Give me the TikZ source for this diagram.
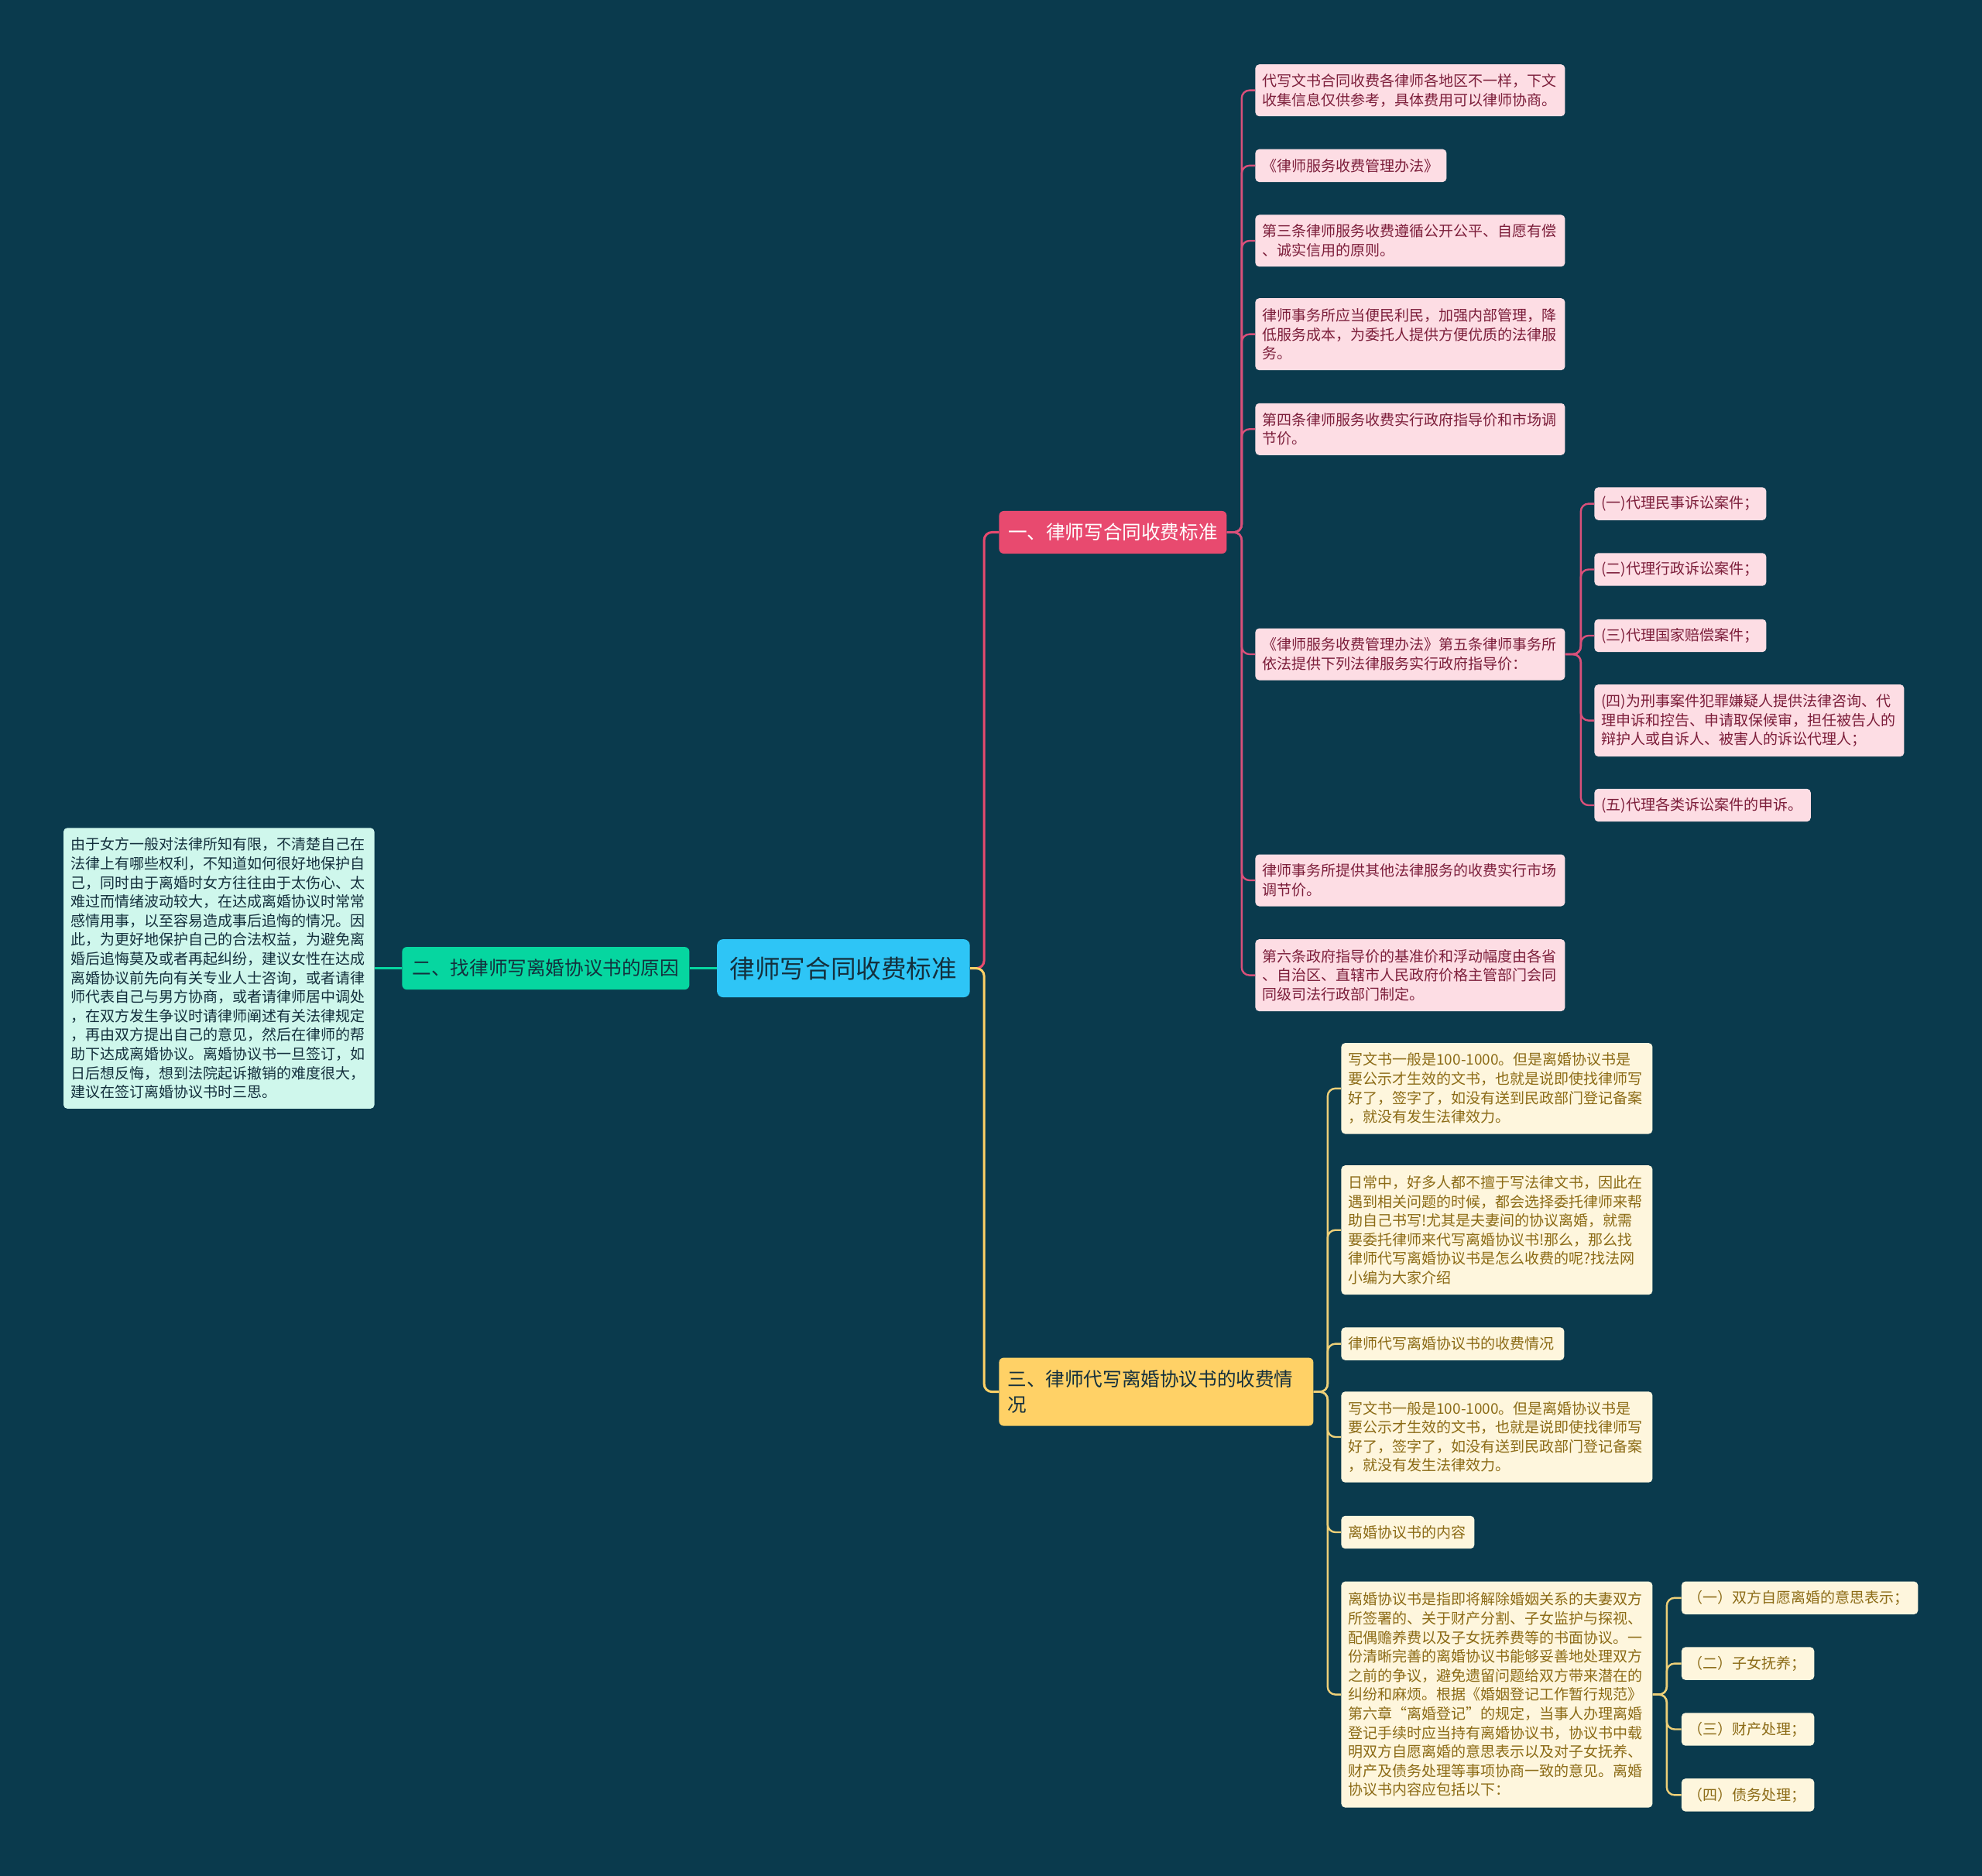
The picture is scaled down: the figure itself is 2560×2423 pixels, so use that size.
\documentclass[tikz,border=0pt]{standalone}
\usepackage{fontspec}
\setmainfont{Noto Sans CJK SC}
\definecolor{bg}{HTML}{0A3A4D}
\definecolor{rootc}{HTML}{2EC5F6}
\definecolor{redc}{HTML}{E84A6F}
\definecolor{greenc}{HTML}{06D6A0}
\definecolor{yellowc}{HTML}{FFD166}
\definecolor{pinkfill}{HTML}{FDDDE4}
\definecolor{pinktext}{HTML}{7C1E3A}
\definecolor{creamfill}{HTML}{FEF6DD}
\definecolor{creamtext}{HTML}{8C6B16}
\definecolor{mintfill}{HTML}{CFF7EC}
\definecolor{darktext}{HTML}{14303D}
\definecolor{pinkline}{HTML}{D9507A}
\definecolor{creamline}{HTML}{EDCF78}
\begin{document}
\begin{tikzpicture}[x=0.5pt,y=-0.5pt,
  box/.style={draw=none, rounded corners=2.5pt, anchor=west, inner ysep=0pt, align=left},
  small/.style={font=\fontsize{9.5}{12.3}\selectfont, inner xsep=4.5pt},
  pk/.style={box, small, fill=pinkfill, text=pinktext},
  cr/.style={box, small, fill=creamfill, text=creamtext},
  mn/.style={box, small, fill=mintfill, text=darktext},
  rootbox/.style={box, rounded corners=4pt, fill=rootc, text=darktext, align=center, inner sep=0pt,
     font=\fontsize{16.3}{20}\selectfont},
  brbox/.style={box, rounded corners=3pt, inner sep=0pt, font=\fontsize{12.3}{16.3}\selectfont},
  lred/.style={draw=redc, line width=1.5pt, rounded corners=5pt},
  lyel/.style={draw=yellowc, line width=1.5pt, rounded corners=5pt},
  lgrn/.style={draw=greenc, line width=1.5pt},
  lpk/.style={draw=pinkline, line width=1.2pt, rounded corners=5pt},
  lcr/.style={draw=creamline, line width=1.2pt, rounded corners=5pt}
]
\fill[bg] (0,0) rectangle (2560,2423);
\useasboundingbox (0,0) rectangle (2560,2423);

% root and branches
\node[rootbox, minimum width=163.3pt, minimum height=37.5pt] (root) at (925.7,1250.6) {律师写合同收费标准};
\node[brbox, fill=redc, text=white, align=center, minimum width=147pt, minimum height=27.5pt] (b1) at (1290,687.5) {一、律师写合同收费标准};
\node[brbox, fill=greenc, text=darktext, align=center, minimum width=185.5pt, minimum height=27.5pt] (b2) at (519,1250.6) {二、找律师写离婚协议书的原因};
\node[brbox, fill=yellowc, text=darktext, align=left, inner xsep=5.5pt, text width=192pt, minimum height=44pt] (b3) at (1290,1797.6) {三、律师代写离婚协议书的收费情\\况};

% left leaf
\node[mn, text width=191.8pt, minimum height=181.3pt] (mint) at (81.6,1250.6) {由于女方一般对法律所知有限，不清楚自己在\\法律上有哪些权利，不知道如何很好地保护自\\己，同时由于离婚时女方往往由于太伤心、太\\难过而情绪波动较大，在达成离婚协议时常常\\感情用事，以至容易造成事后追悔的情况。因\\此，为更好地保护自己的合法权益，为避免离\\婚后追悔莫及或者再起纠纷，建议女性在达成\\离婚协议前先向有关专业人士咨询，或者请律\\师代表自己与男方协商，或者请律师居中调处\\，在双方发生争议时请律师阐述有关法律规定\\，再由双方提出自己的意见，然后在律师的帮\\助下达成离婚协议。离婚协议书一旦签订，如\\日后想反悔，想到法院起诉撤销的难度很大，\\建议在签订离婚协议书时三思。};

% branch 1 children
\node[pk, text width=191pt, minimum height=33.5pt] (p1) at (1621,116.7) {代写文书合同收费各律师各地区不一样，下文\\收集信息仅供参考，具体费用可以律师协商。};
\node[pk, text width=114.5pt, minimum height=21.2pt] (p2) at (1621,213.9) {《律师服务收费管理办法》};
\node[pk, text width=191pt, minimum height=33.5pt] (p3) at (1621,311) {第三条律师服务收费遵循公开公平、自愿有偿\\、诚实信用的原则。};
\node[pk, text width=191pt, minimum height=46.5pt] (p4) at (1621,431.7) {律师事务所应当便民利民，加强内部管理，降\\低服务成本，为委托人提供方便优质的法律服\\务。};
\node[pk, text width=191pt, minimum height=33.5pt] (p5) at (1621,554.3) {第四条律师服务收费实行政府指导价和市场调\\节价。};
\node[pk, text width=191pt, minimum height=33.5pt] (p6) at (1621,845) {《律师服务收费管理办法》第五条律师事务所\\依法提供下列法律服务实行政府指导价：};
\node[pk, text width=191pt, minimum height=33.5pt] (p7) at (1621,1137) {律师事务所提供其他法律服务的收费实行市场\\调节价。};
\node[pk, text width=191pt, minimum height=46.5pt] (p8) at (1621,1259.6) {第六条政府指导价的基准价和浮动幅度由各省\\、自治区、直辖市人民政府价格主管部门会同\\同级司法行政部门制定。};

% p6 children
\node[pk, text width=102pt, minimum height=21.2pt] (q1) at (2059,650.6) {(一)代理民事诉讼案件；};
\node[pk, text width=102pt, minimum height=21.2pt] (q2) at (2059,735.5) {(二)代理行政诉讼案件；};
\node[pk, text width=102pt, minimum height=21.2pt] (q3) at (2059,821) {(三)代理国家赔偿案件；};
\node[pk, text width=191pt, minimum height=46.5pt] (q4) at (2059,930.6) {(四)为刑事案件犯罪嫌疑人提供法律咨询、代\\理申诉和控告、申请取保候审，担任被告人的\\辩护人或自诉人、被害人的诉讼代理人；};
\node[pk, text width=130.7pt, minimum height=21.2pt] (q5) at (2059,1040) {(五)代理各类诉讼案件的申诉。};

% branch 3 children
\node[cr, text width=192pt, minimum height=58.7pt] (c1) at (1732,1405.8) {写文书一般是100-1000。但是离婚协议书是\\要公示才生效的文书，也就是说即使找律师写\\好了，签字了，如没有送到民政部门登记备案\\，就没有发生法律效力。};
\node[cr, text width=192pt, minimum height=83.5pt] (c2) at (1732,1588.7) {日常中，好多人都不擅于写法律文书，因此在\\遇到相关问题的时候，都会选择委托律师来帮\\助自己书写!尤其是夫妻间的协议离婚，就需\\要委托律师来代写离婚协议书!那么，那么找\\律师代写离婚协议书是怎么收费的呢?找法网\\小编为大家介绍};
\node[cr, text width=135pt, minimum height=21.2pt] (c3) at (1732,1735.6) {律师代写离婚协议书的收费情况};
\node[cr, text width=192pt, minimum height=58.7pt] (c4) at (1732,1856) {写文书一般是100-1000。但是离婚协议书是\\要公示才生效的文书，也就是说即使找律师写\\好了，签字了，如没有送到民政部门登记备案\\，就没有发生法律效力。};
\node[cr, text width=77pt, minimum height=21.2pt] (c5) at (1732,1979) {离婚协议书的内容};
\node[cr, text width=192pt, minimum height=146pt] (c6) at (1732,2188.6) {离婚协议书是指即将解除婚姻关系的夫妻双方\\所签署的、关于财产分割、子女监护与探视、\\配偶赡养费以及子女抚养费等的书面协议。一\\份清晰完善的离婚协议书能够妥善地处理双方\\之前的争议，避免遗留问题给双方带来潜在的\\纠纷和麻烦。根据《婚姻登记工作暂行规范》\\第六章“离婚登记”的规定，当事人办理离婚\\登记手续时应当持有离婚协议书，协议书中载\\明双方自愿离婚的意思表示以及对子女抚养、\\财产及债务处理等事项协商一致的意见。离婚\\协议书内容应包括以下：};

% c6 children
\node[cr, text width=143.7pt, minimum height=21.2pt] (d1) at (2171.5,2063.8) {（一）双方自愿离婚的意思表示；};
\node[cr, text width=76.7pt, minimum height=21.2pt] (d2) at (2171.5,2148.6) {（二）子女抚养；};
\node[cr, text width=76.7pt, minimum height=21.2pt] (d3) at (2171.5,2233.5) {（三）财产处理；};
\node[cr, text width=76.7pt, minimum height=21.2pt] (d4) at (2171.5,2318.4) {（四）债务处理；};

% connectors
\begin{scope}[on background layer/.style={}]
\path[lred] (root.east) -- ++(9pt,0) |- (b1.west);
\path[lyel] (root.east) -- ++(9pt,0) |- (b3.west);
\path[lgrn] (root.west) -- (b2.east);
\path[lgrn] (b2.west) -- (mint.east);
\foreach \n in {p1,p2,p3,p4,p5,p6,p7,p8}
  \path[lpk] (b1.east) -- ++(9.5pt,0) |- (\n.west);
\foreach \n in {q1,q2,q3,q4,q5}
  \path[lpk] (p6.east) -- ++(10pt,0) |- (\n.west);
\foreach \n in {c1,c2,c3,c4,c5,c6}
  \path[lcr] (b3.east) -- ++(9pt,0) |- (\n.west);
\foreach \n in {d1,d2,d3,d4}
  \path[lcr] (c6.east) -- ++(9pt,0) |- (\n.west);
\end{scope}
\end{tikzpicture}
\end{document}
